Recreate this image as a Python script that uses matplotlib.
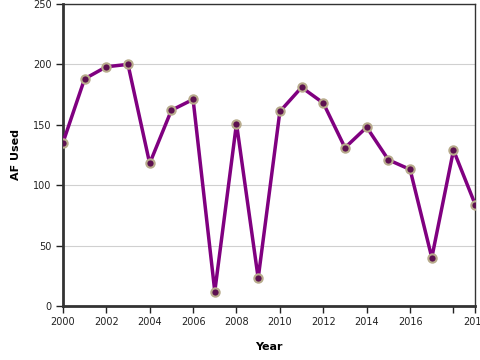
import matplotlib.pyplot as plt

years = list(range(2000, 2020))
af_used = [135, 188, 198, 200, 118, 162, 171, 12, 151, 23,
           161, 181, 168, 131, 148, 121, 113, 40, 129, 84]

tick_years = [2000, 2002, 2004, 2006, 2008, 2010, 2012, 2014, 2016, 2018, 2019]
tick_labels = ["2000", "2002", "2004", "2006", "2008", "2010", "2012", "2014", "2016", "", "2019"]

fig = plt.figure(figsize=(4.8, 3.6), dpi=100)
ax = fig.add_axes([0.131, 0.15, 0.859, 0.839])

ax.plot(years, af_used, color="#800080", linewidth=2.5,
        marker="o", markersize=6, markerfacecolor="#5c1050",
        markeredgecolor="#b8ab8c", markeredgewidth=1.5, zorder=3)

ax.set_xlim(2000, 2019)
ax.set_ylim(0, 250)
ax.set_yticks([0, 50, 100, 150, 200, 250])
ax.set_xticks(tick_years)
ax.set_xticklabels(tick_labels)
ax.grid(axis="y", color="#d0d0d0", linewidth=0.8)
ax.set_axisbelow(True)

for side in ["left", "bottom"]:
    ax.spines[side].set_linewidth(2)
    ax.spines[side].set_color("#333333")
for side in ["top", "right"]:
    ax.spines[side].set_linewidth(1)
    ax.spines[side].set_color("#333333")

ax.tick_params(labelsize=7, colors="#222222", length=5, width=1, pad=3)
ax.set_xlabel("Year", fontsize=8, fontweight="bold", labelpad=11)
ax.set_ylabel("AF Used", fontsize=8, fontweight="bold", labelpad=9)

fig.savefig("out.png", dpi=100)
